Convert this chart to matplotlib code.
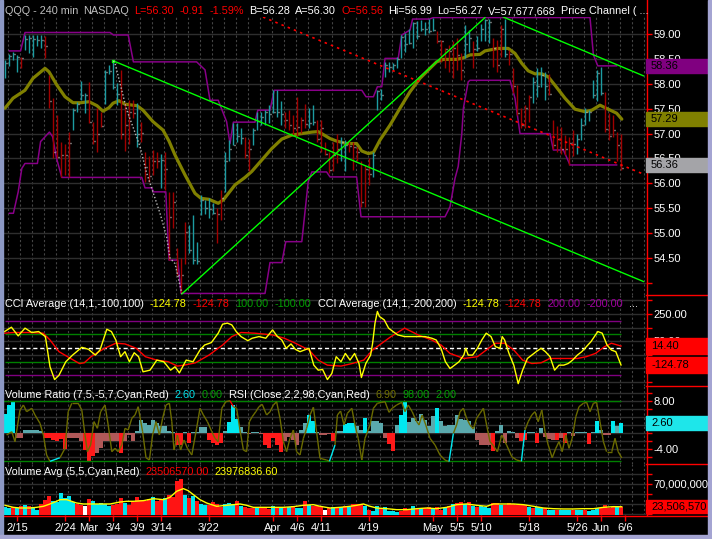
import matplotlib
matplotlib.use('Agg')
import matplotlib.pyplot as plt
import matplotlib.transforms as mtransforms
from matplotlib.patches import Rectangle
from matplotlib.lines import Line2D
from matplotlib.collections import LineCollection
from matplotlib.ticker import FixedLocator, FixedFormatter, MultipleLocator
import numpy as np

plt.rcParams['font.family'] = ['Liberation Sans', 'DejaVu Sans']

# ---------------- data (QQQ 240 min bars) ----------------
bar_dir = ("uuuud" "uuuuu" "ddddd" "dduuu" "udddd" "uuuud" "dddud" "ddddu"
           "ddddd" "duuuu" "uuudd" "uuuuu" "dduuu" "uuuuu" "ddddd" "duudd"
           "ddddu" "udddd" "dduuu" "uuuuu" "uuuuu" "uuudd" "ddddd" "uuduu"
           "uuddd" "udddd" "dduuu" "udddd" "ddduu" "uuuuu" "ddddd")
bar_high = [58.48, 58.59, 58.63, 58.58, 58.54, 58.98, 58.98, 58.97, 58.97, 58.98,
            58.95, 58.18, 57.71, 57.37, 56.84, 56.80, 57.04, 57.51, 57.63, 58.06,
            57.81, 58.04, 57.24, 57.51, 57.44, 58.28, 58.38, 58.48, 58.01, 58.28,
            57.61, 57.67, 57.67, 57.61, 57.24, 56.64, 56.54, 56.67, 56.64, 56.60,
            56.64, 55.83, 55.83, 54.70, 54.50, 55.23, 55.16, 55.37, 54.83, 55.77,
            55.67, 55.70, 55.60, 55.50, 55.87, 56.64, 56.87, 57.21, 57.21, 57.11,
            56.94, 56.90, 57.11, 57.44, 57.44, 57.47, 57.57, 57.87, 57.87, 57.65,
            57.44, 57.47, 57.37, 57.74, 57.34, 57.59, 57.51, 57.57, 57.27, 57.27,
            56.84, 56.64, 56.84, 57.00, 56.94, 56.87, 56.87, 56.84, 56.74, 56.44,
            56.37, 56.50, 56.64, 57.87, 57.89, 58.44, 58.44, 58.41, 58.54, 58.97,
            59.01, 59.10, 59.25, 59.26, 59.28, 59.25, 59.30, 59.33, 59.06, 58.88,
            58.71, 58.78, 58.86, 58.91, 58.61, 59.18, 59.08, 58.85, 58.95, 59.21,
            59.30, 59.31, 58.91, 58.88, 59.19, 59.30, 58.68, 58.31, 57.97, 57.52,
            57.57, 57.77, 58.14, 58.31, 58.34, 58.24, 58.19, 57.27, 57.16, 57.14,
            56.97, 56.94, 57.07, 57.00, 57.31, 57.51, 57.47, 58.08, 58.28, 58.34,
            57.84, 57.41, 57.37, 57.04, 56.99]
bar_low = [58.11, 58.36, 58.48, 58.23, 58.31, 58.68, 58.61, 58.54, 58.75, 58.71,
           58.51, 57.51, 56.50, 56.50, 56.13, 56.17, 56.13, 57.07, 57.43, 57.67,
           57.41, 57.21, 56.80, 56.64, 57.14, 57.59, 58.19, 57.90, 57.57, 56.90,
           56.65, 56.80, 57.31, 56.74, 56.84, 56.03, 56.03, 56.17, 56.30, 55.90,
           55.87, 54.46, 55.10, 54.16, 53.79, 54.39, 54.60, 54.39, 54.39, 55.37,
           55.38, 55.30, 55.38, 54.80, 55.27, 55.83, 56.44, 56.77, 56.84, 56.80,
           56.50, 56.24, 56.78, 57.07, 57.17, 57.17, 57.21, 57.41, 57.34, 57.17,
           57.11, 57.07, 56.97, 56.94, 57.01, 57.11, 57.11, 57.17, 56.84, 56.64,
           56.57, 56.20, 56.24, 56.40, 56.44, 56.24, 56.64, 56.27, 56.44, 55.53,
           55.53, 55.97, 56.13, 57.47, 57.67, 58.14, 58.24, 58.28, 58.32, 58.51,
           58.64, 58.79, 58.71, 58.90, 59.05, 58.97, 59.01, 59.05, 58.81, 58.44,
           58.31, 58.24, 58.11, 58.28, 58.08, 58.51, 58.64, 58.31, 58.66, 58.85,
           58.85, 58.81, 58.34, 58.24, 58.54, 58.54, 58.38, 57.81, 57.37, 57.11,
           57.11, 57.24, 57.61, 57.74, 57.94, 57.67, 57.77, 56.70, 56.64, 56.60,
           56.57, 56.37, 56.54, 56.60, 56.87, 57.17, 57.25, 57.71, 57.65, 57.78,
           57.04, 56.87, 56.94, 56.44, 56.27]
bar_close = [58.42, 58.56, 58.59, 58.54, 58.52, 58.90, 58.91, 58.90, 58.88, 58.88,
             58.76, 57.65, 56.64, 56.52, 56.57, 56.57, 56.82, 57.47, 57.59, 57.78,
             57.78, 57.23, 56.85, 57.00, 57.16, 58.24, 58.26, 57.94, 57.79, 56.99,
             57.17, 57.44, 57.41, 57.00, 57.02, 56.32, 56.14, 56.44, 56.44, 56.47,
             56.29, 55.33, 55.63, 54.17, 54.17, 55.02, 54.66, 54.46, 54.44, 55.67,
             55.51, 55.49, 55.40, 55.38, 55.70, 56.44, 56.70, 56.78, 56.96, 56.92,
             56.57, 56.70, 57.07, 57.25, 57.34, 57.44, 57.39, 57.43, 57.44, 57.40,
             57.27, 57.17, 57.11, 57.14, 57.27, 57.19, 57.21, 57.23, 56.90, 57.11,
             56.60, 56.27, 56.57, 56.70, 56.84, 56.77, 56.76, 56.74, 56.64, 55.62,
             56.29, 56.18, 56.57, 57.86, 57.78, 58.38, 58.34, 58.38, 58.50, 58.93,
             58.79, 58.81, 59.23, 58.95, 59.11, 59.10, 59.06, 59.08, 58.86, 58.85,
             58.70, 58.65, 58.71, 58.58, 58.28, 58.79, 58.91, 58.70, 58.71, 59.11,
             59.28, 59.24, 58.71, 58.38, 59.11, 58.59, 58.59, 57.96, 57.41, 57.17,
             57.51, 57.74, 58.04, 57.96, 58.18, 57.96, 57.79, 56.78, 56.90, 56.70,
             56.70, 56.82, 56.80, 56.90, 57.17, 57.44, 57.44, 57.78, 58.21, 57.81,
             57.09, 56.96, 57.07, 56.78, 56.30]

ma_x = [0, 2, 5, 7, 10, 11, 13, 15, 17, 19, 21, 23, 24.5, 26, 27, 28.5, 30, 33, 34.5, 37,
        39.5, 41, 42.5, 45, 47.5, 49, 51, 53.3, 54.6, 57.5, 60, 61.7, 64.2, 66.7, 69.2,
        71.7, 74.2, 76.7, 78.3, 80, 81.25, 82.9, 85.4, 87.9, 89.2, 90.8, 92.1, 93.75,
        96.25, 98.75, 101.25, 103.75, 106.25, 107.9, 109.6, 112.9, 114.6, 116.25, 118.75,
        120, 121.25, 123.3, 125.8, 127.5, 129.2, 130.8, 132.5, 134.2, 135.8, 137.5, 140,
        142.5, 145, 146.7, 148.75, 150.8, 152.9, 154.2]
ma_v = [57.51, 57.71, 57.87, 58.11, 58.31, 58.24, 57.97, 57.74, 57.62, 57.62, 57.64, 57.56,
        57.45, 57.52, 57.61, 57.66, 57.59, 57.56, 57.47, 57.24, 57.07, 56.85, 56.57, 56.17,
        55.80, 55.70, 55.68, 55.60, 55.67, 55.97, 56.12, 56.24, 56.47, 56.70, 56.89, 56.97,
        57.00, 57.03, 57.04, 56.96, 56.90, 56.85, 56.80, 56.80, 56.65, 56.60, 56.62, 56.87,
        57.17, 57.51, 57.84, 58.11, 58.31, 58.44, 58.49, 58.49, 58.52, 58.58, 58.59, 58.66,
        58.68, 58.71, 58.71, 58.61, 58.41, 58.26, 58.20, 58.20, 58.14, 57.97, 57.71, 57.49,
        57.44, 57.47, 57.57, 57.49, 57.41, 57.29]

chan_up_x = [1.1, 3.9, 5.0, 26.25, 27.1, 30.8, 32.1, 47.9, 50.0, 51.25, 53.3, 55.4, 56.25,
             57.1, 62.5, 63.2, 66.25, 67.3, 89.2, 90.25, 92.1, 93.1, 94.2, 95.0, 98.3, 99.2,
             101.25, 101.9, 106.1, 107.1, 146.25, 147.1, 148.2, 152.9]
chan_up_v = [58.66, 58.66, 59.03, 59.03, 58.98, 58.98, 58.44, 58.44, 58.28, 57.67, 57.67,
             57.24, 56.80, 57.23, 57.23, 57.47, 57.47, 57.87, 57.87, 57.74, 57.74, 57.94,
             57.94, 58.51, 58.51, 58.98, 59.08, 59.30, 59.30, 59.33, 59.33, 58.58, 58.36, 58.36]
chan_lo_x = [1.1, 2.1, 3.3, 4.2, 5.0, 8.1, 8.9, 9.6, 11.1, 11.9, 12.9, 14.2, 34.2, 35.0,
             36.7, 37.1, 40.2, 41.0, 43.2, 44.0, 65.0, 66.25, 69.2, 70.2, 74.2, 75.8, 76.7,
             80.4, 81.25, 87.9, 89.0, 110.0, 111.25, 112.5, 113.3, 114.2, 114.6, 115.8,
             116.25, 126.25, 127.5, 128.75, 136.25, 137.1, 139.6, 141.25, 152.9]
chan_lo_v = [55.40, 55.40, 55.83, 56.30, 56.40, 56.40, 56.84, 56.90, 57.03, 56.94, 56.50,
             56.12, 56.12, 55.91, 55.91, 55.83, 55.83, 54.46, 54.46, 53.79, 53.79, 54.41,
             54.41, 54.83, 54.83, 56.03, 56.23, 56.23, 56.13, 56.13, 55.33, 55.33, 55.53,
             56.10, 56.34, 57.00, 57.51, 58.04, 58.07, 58.07, 57.71, 57.00, 57.00, 56.67,
             56.67, 56.37, 56.37]

# trend lines: (bar, price) end points
trend_green = [((27.1, 58.46), (159.6, 54.03)),
               ((44.2, 53.78), (120.0, 59.33)),
               ((124.6, 59.34), (159.6, 58.16))]
trend_red = ((64.5, 59.34), (159.2, 56.20))
swing_x = [27.1, 27.5, 28.75, 30.4, 32.1, 33.75, 35.4, 37.1, 38.75, 40.4, 41.25, 42.5, 44.2]
swing_v = [58.46, 58.41, 58.01, 57.48, 57.11, 56.74, 56.21, 55.80, 55.40, 54.93, 54.50,
           54.39, 53.79]

cci_x = [-0.1, 1.6, 3.3, 5.0, 6.7, 8.4, 10.1, 11.25, 12.4, 13.5, 15.2, 16.9, 19.2, 20.9, 22.6,
         23.75, 25.45, 26.6, 27.7, 28.9, 30.0, 31.1, 32.3, 33.4, 34.5, 36.25, 37.95, 39.7,
         41.4, 42.5, 43.6, 45.3, 47.0, 48.75, 49.9, 51.6, 53.3, 54.4, 55.6, 56.7, 57.8, 59.0,
         60.7, 61.8, 63.5, 65.2, 66.9, 68.1, 69.2, 70.3, 71.5, 72.6, 73.75, 76.0, 77.2, 78.3,
         79.4, 80.6, 81.7, 82.8, 84.0, 85.1, 86.25, 87.4, 88.5, 89.1, 90.2, 91.4, 91.9, 92.5,
         93.1, 93.6, 94.8, 95.9, 97.0, 98.2, 99.9, 101.0, 102.7, 105.0, 106.7, 107.8, 109.0,
         110.1, 111.25, 112.4, 113.5, 114.7, 115.2, 115.8, 116.9, 118.1, 119.2, 120.3, 121.5,
         122.6, 123.75, 124.3, 124.9, 126.0, 127.2, 128.3, 129.4, 130.6, 131.7, 132.8, 134.0,
         135.1, 136.25, 137.4, 138.5, 139.7, 140.8, 141.9, 143.1, 144.2, 146.5, 148.2, 149.3,
         150.5, 151.6, 152.7, 154.0]
cci_v = [121, 153, 89, 146, 114, 121, 84, -138, -232, -200, -101, -52, 5, -10, -52, -15, 138,
         121, 59, -64, -27, -101, -35, -64, -175, -163, -89, -101, -163, -138, -183, -89,
         -101, -15, 22, 40, 109, 175, 183, 170, 121, 84, 54, 72, 84, 72, 133, 84, 59, -2, 30,
         -10, -27, -2, -126, -163, -158, -232, -188, -64, -101, -40, -89, -40, -114, -217,
         -114, -52, 35, 183, 269, 232, 207, 146, 121, 96, 84, 84, 84, 84, 72, 59, -2, -101,
         -151, -126, -101, -52, -2, -52, -52, -2, 59, 109, 84, 10, -2, 84, 59, -40, -126,
         -262, -163, -77, -52, -27, -2, -27, -64, -163, -126, -126, -114, -89, -52, -27, 47,
         121, 109, 22, -15, -27, -124.78]
cci_avg_x = [-0.1, 2.2, 5.6, 9.55, 11.25, 13.5, 16.4, 18.6, 19.8, 21.5, 24.9, 27.7, 30.0,
             32.8, 35.1, 37.95, 40.8, 43.1, 44.8, 47.6, 51.0, 54.4, 56.7, 59.0, 62.4, 66.9,
             69.8, 72.6, 76.0, 78.3, 80.6, 84.0, 86.8, 89.7, 91.9, 94.2, 96.5, 99.9, 103.3,
             106.7, 109.0, 111.25, 114.7, 118.1, 120.9, 122.6, 124.9, 127.2, 129.4, 131.7,
             134.0, 136.25, 139.7, 143.1, 145.3, 147.6, 149.9, 151.6, 154.0]
cci_avg_v = [109, 114, 114, 109, 59, -27, -77, -114, -109, -64, -2, 35, 30, -2, -64, -89,
             -101, -133, -126, -109, -52, 22, 84, 114, 109, 96, 72, 35, -15, -89, -126, -133,
             -114, -89, -15, 35, 84, 146, 96, 59, 22, -40, -77, -64, -2, 35, 35, -15, -89,
             -114, -109, -77, -77, -77, -64, -40, 10, 35, 14.40]

vol_ratio = [4.75, 6.9, 8.1, -1.25, -1.25, 0.67, 0.8, 0.8, 0.8, 0.4,
             -1.25, -1.25, -1.7, -2.1, -1.5, -4.0, -1.25, -1.25, -1.25, -1.9,
             -4.2, -7.1, -5.8, -5.0, -3.75, -2.1, -2.1, -2.1, -2.1, -5.0,
             -2.1, -0.6, -2.1, 0.4, 3.3, 2.5, 2.1, 3.3, 2.5, 1.7,
             1.7, 0.4, 0.25, -2.9, -2.9, 0.3, -2.5, 0.3, 0.25, 1.4,
             1.4, -1.7, -2.5, -2.9, -2.5, 0.4, 2.75, 7.1, 3.6, 1.4,
             0.2, -0.25, 0.2, 0.2, -0.25, -2.9, -3.75, -1.25, -2.9, -4.75,
             -2.1, -1.1, -1.7, -2.9, 0.8, 2.5, 4.6, 2.9, 0.3, -0.4,
             -0.4, -0.25, -2.1, 0.4, 0.4, 2.25, 2.5, 2.5, 1.7, 0.8,
             3.75, 0.4, 3.1, 3.1, 2.5, -1.25, -2.75, -4.6, 1.9, 4.6,
             7.75, 2.75, 3.75, 2.9, 4.75, 3.3, 1.7, 4.2, 6.25, 3.1,
             1.7, 1.9, 1.9, 4.6, 3.6, 3.3, 3.1, 1.4, -1.7, -2.9,
             -2.9, -2.9, -4.4, 0.4, 2.1, -2.5, 0.4, 0.25, -1.25, -1.9,
             -1.7, 0.25, 0.25, -2.5, 1.25, -1.1, -1.4, -1.7, -1.7, -1.25,
             -2.5, 0.25, -0.8, 0.2, 0.2, 0.25, -2.75, 0.2, 2.9, 0.8,
             -0.6, -0.6, 2.9, 1.7, 2.6]
vol_ratio_signal = [1, 1, 1, 0, 0, 0, 0, 0, 0, 0,  1, 1, 1, 1, 1, 1, 0, 0, 0, 0,
                    1, 1, 1, 0, 0, 0, 0, 0, 0, 1,  0, 0, 0, 0, 0, 0, 0, 0, 0, 0,
                    0, 0, 0, 1, 1, 0, 1, 0, 0, 0,  0, 1, 1, 1, 1, 0, 1, 1, 1, 0,
                    0, 0, 0, 0, 0, 1, 1, 1, 1, 1,  0, 0, 0, 0, 0, 0, 1, 1, 0, 0,
                    0, 0, 1, 0, 0, 1, 1, 1, 0, 0,  1, 0, 0, 0, 0, 0, 1, 1, 0, 1,
                    1, 0, 0, 0, 0, 0, 0, 0, 1, 0,  0, 0, 0, 0, 0, 0, 0, 0, 0, 0,
                    0, 0, 1, 0, 0, 0, 0, 0, 0, 1,  1, 0, 0, 1, 0, 0, 0, 0, 1, 0,
                    1, 0, 0, 0, 0, 0, 1, 0, 1, 0,  0, 0, 1, 0, 1]

rsi_x = [0.4, 1.7, 2.5, 3.75, 4.6, 5.4, 6.7, 7.5, 8.75, 9.6, 10.4, 11.25, 13.75, 15.0, 15.8,
         16.7, 18.3, 19.2, 20.0, 20.6, 21.4, 22.25, 23.1, 23.9, 25.0, 25.8, 26.7, 27.5, 28.3,
         29.2, 30.0, 30.8, 31.7, 32.5, 33.3, 34.4, 35.25, 36.1, 36.9, 37.75, 38.6, 39.4,
         40.25, 41.1, 41.7, 42.25, 43.1, 43.9, 44.75, 45.6, 46.7, 47.9, 48.75, 49.6, 50.6,
         51.7, 52.5, 53.3, 54.2, 55.2, 56.25, 57.1, 57.9, 58.75, 59.6, 60.4, 61.1, 61.8,
         62.7, 63.5, 64.3, 65.4, 66.25, 67.1, 67.9, 68.75, 69.6, 70.4, 71.25, 72.1, 72.9,
         73.75, 74.6, 75.4, 76.25, 77.1, 78.75, 80.4, 81.1, 82.5, 83.1, 83.9, 84.75, 85.6,
         86.7, 87.5, 88.3, 89.2, 90.0, 91.25, 92.1, 93.1, 94.2, 95.0, 96.0, 96.8, 97.9, 99.2,
         100.0, 100.8, 101.8, 102.7, 103.5, 104.3, 105.2, 106.25, 107.5, 108.75, 110.0,
         111.0, 112.1, 112.9, 113.75, 114.6, 115.4, 116.25, 117.1, 117.9, 118.75, 119.6,
         120.4, 121.25, 122.1, 123.1, 124.2, 125.4, 126.7, 127.9, 129.1, 130.0, 130.8, 131.7,
         132.5, 133.3, 134.2, 135.0, 135.8, 136.8, 137.7, 138.5, 139.3, 140.2, 141.0, 141.8,
         142.7, 143.5, 144.6, 145.4, 146.25, 147.1, 147.9, 148.75, 149.6, 150.4, 151.7,
         152.5, 153.3, 154.2]
rsi_v = [43.6, 48.9, 32.9, 83.6, 91.6, 80.9, 86.3, 75.6, 62.3, 43.6, 11.6, 1.5, 7.3, 22.3,
         80.9, 94.3, 94.3, 83.6, 43.6, 16.9, 27.6, 65, 54.3, 80.9, 91.6, 59.6, 16.9, 22.3,
         16.9, 27.6, 54.3, 51.6, 70.3, 75.6, 88.9, 48.9, 7.3, 3.6, 43.6, 65, 43.6, 70.3, 91.6,
         94.3, 65, 19.6, 43.6, 19.6, 35.6, 22.3, 11.6, 54.3, 86.3, 75.6, 65, 48.9, 38.3, 32.9,
         86.3, 96.9, 98.5, 88.9, 86.3, 51.6, 19.6, 16.9, 65, 72.9, 80.9, 88.9, 92.7, 75.6,
         80.9, 91.6, 96.9, 70.3, 32.9, 16.9, 38.3, 51.6, 16.9, 11.6, 38.3, 54.3, 75.6, 88,
         6.3, 3.6, 1.5, 27.6, 75.6, 82, 59.6, 78.3, 86.3, 59.6, 38.3, 3.6, 38.3, 59.6, 86.3,
         94.3, 95.9, 96.9, 79.9, 86.3, 91.6, 95.9, 80.9, 91.6, 80.9, 67.6, 59.6, 75.6, 59.6,
         38.3, 27.6, 11.6, 3.6, 1.0, 46.3, 59.6, 80.9, 86.3, 70.3, 59.6, 53.2, 70.3, 78.3,
         86.3, 59.6, 32.9, 26.5, 16.9, 43.6, 27.6, 8.9, 3.6, 1.5, 51.6, 64.9, 75.6, 80.9,
         64.9, 83.6, 48.9, 27.6, 7.3, 22.3, 32.9, 16.9, 43.6, 22.3, 38.3, 72.9, 88.9, 94.3,
         95.9, 80.9, 94.3, 95.9, 64.9, 32.9, 16.9, 16.9, 38.3, 16.9, 6.9]

# volume in millions of shares, u = up, d = down, n = unchanged
vol_m = [22.8, 21.5, 22.8, 21.5, 24.9, 26.9, 24.9, 22.8, 18.1, 29.6,
         38.3, 46.4, 36.3, 33.6, 51.8, 41.7, 45.1, 33.6, 29.6, 26.9,
         24.9, 40.3, 36.3, 29.6, 31.6, 29.6, 24.9, 28.2, 29.6, 41.7,
         31.6, 28.2, 33.6, 43.1, 38.3, 35.0, 40.3, 43.1, 36.3, 38.3,
         41.7, 48.4, 43.1, 76.7, 80.8, 47.1, 41.7, 45.1, 36.3, 29.6,
         28.2, 26.9, 33.6, 29.6, 22.8, 29.6, 31.6, 29.6, 35.0, 24.9,
         22.8, 21.5, 21.5, 21.5, 22.8, 21.5, 20.1, 24.9, 21.5, 22.8,
         21.5, 22.8, 24.9, 21.5, 21.5, 36.3, 26.9, 24.9, 24.9, 22.8,
         18.1, 21.5, 22.8, 22.8, 22.8, 24.9, 22.8, 29.6, 29.6, 29.6,
         24.9, 18.1, 16.1, 24.9, 21.5, 22.8, 16.1, 14.7, 12.7, 14.7,
         21.5, 18.1, 24.9, 19.5, 21.5, 21.5, 22.8, 21.5, 22.8, 18.1,
         21.5, 24.9, 29.6, 31.6, 33.6, 29.6, 33.6, 24.9, 22.8, 24.9,
         22.8, 21.5, 31.6, 31.6, 26.9, 28.2, 31.6, 29.6, 26.9, 29.6,
         28.2, 22.8, 21.5, 22.8, 21.5, 21.5, 18.1, 18.1, 18.1, 18.1,
         18.1, 18.1, 18.1, 18.1, 18.1, 18.1, 16.1, 18.1, 21.5, 21.5,
         26.9, 21.5, 22.8, 22.8, 23.51]
vol_dir = ("uudud" "uduud" "dduuu" "uuudd" "nduuu" "uuddd" "udddd" "ddudd"
           "udddd" "ududu" "udddd" "uuudu" "dddud" "ddudu" "duduu" "duddd"
           "ndudu" "duddd" "uduud" "uuuud" "ddudu" "ddudd" "ududd" "ududu"
           "uuddu" "ddddd" "duduu" "duudu" "uuduu" "duuud" "dddud")
vol_avg_x = [0, 2.1, 3.75, 6.25, 7.9, 9.6, 11.25, 12.9, 13.75, 15.4, 17.9, 19.6, 21.25, 23.75,
             26.25, 28.75, 30.4, 32.1, 34.6, 37.1, 39.6, 41.25, 42.9, 44.6, 45.8, 47.1, 48.75,
             50.4, 52.9, 55.4, 57.1, 58.75, 60.4, 62.1, 64.6, 67.1, 69.6, 72.1, 74.6, 77.1,
             78.75, 81.25, 83.75, 86.25, 87.9, 89.6, 91.25, 92.9, 95.4, 97.9, 100.4, 102.9,
             105.4, 107.9, 110.4, 112.9, 115.4, 117.9, 120.4, 122.1, 124.6, 127.1, 129.6,
             132.1, 134.6, 137.1, 139.6, 142.1, 144.6, 147.1, 149.6, 152.1, 154.2]
vol_avg_m = [26.9, 22.8, 21.5, 21.5, 22.8, 24.9, 29.6, 35.0, 38.3, 38.3, 31.6, 29.6, 29.6,
             29.6, 29.6, 33.6, 35.0, 35.0, 36.3, 40.3, 38.3, 43.1, 55.2, 60.6, 56.5, 48.4,
             38.3, 31.6, 24.9, 26.9, 28.2, 29.6, 26.9, 22.8, 22.8, 22.8, 22.8, 24.2, 26.9,
             28.2, 24.9, 21.5, 22.8, 24.9, 26.9, 29.6, 24.9, 21.5, 20.1, 18.1, 18.1, 20.1,
             21.5, 20.1, 22.8, 28.2, 29.6, 26.9, 24.9, 29.6, 29.6, 29.6, 28.2, 24.9, 21.5,
             20.1, 19.5, 19.5, 20.1, 20.1, 22.8, 24.2, 23.98]

# date labels and their trading-day number counted from 2/15
date_labels = ['2/15', '2/24', 'Mar', '3/4', '3/9', '3/14', '3/22', 'Apr', '4/6', '4/11',
               '4/19', 'May', '5/5', '5/10', '5/18', '5/26', 'Jun', '6/6']
date_day = [0, 6, 9, 12, 15, 18, 24, 32, 35, 38, 44, 52, 55, 58, 64, 70, 73, 76]

price_ticks = [54.0, 54.5, 55.0, 55.5, 56.0, 56.5, 57.0, 57.5, 58.0, 58.5, 59.0]
price_tick_labels = ['', '54.50', '55.00', '55.50', '56.00', '56.50', '57.00', '57.50',
                     '58.00', '58.50', '59.00']
cci_ticks = [-250, -150, -50, 50, 150, 250, 350]
cci_tick_labels = ['', '', '', '50.00', '', '250.00', '']
vr_ticks = [-6, -4, -2, 0, 2, 4, 6, 8, 10]
vr_tick_labels = ['', '-4.00', '', '', '2.00', '', '', '8.00', '']
vol_ticks = [10, 30, 50, 70, 90]
vol_tick_labels = ['', '30,000,000', '', '70,000,000', '']

# ---------------- figure ----------------
W, H = 712, 539
fig = plt.figure(figsize=(W / 100, H / 100), dpi=100, facecolor='black')
TEAL, DRED = '#1c9ca2', '#a00000'
WHITE, RED, GREEN, PURPLE = '#ffffff', '#ff0000', '#00a000', '#a000a0'
GRID = '#2e2e2e'
FS = 7.8
PLOT_L, PLOT_R, AXIS_R = 3, 646, 708


def axes_px(top, bottom):
    return fig.add_axes([PLOT_L / W, 1 - bottom / H, (PLOT_R - PLOT_L) / W, (bottom - top) / H])


ax_p = axes_px(17, 295)
ax_c = axes_px(295, 386)
ax_v = axes_px(386, 464)
ax_vol = axes_px(464, 515)

# RSI shares the volume-ratio panel on its own scale
ax_r = ax_v.twinx()
ax_r.set_ylim(-2.8, 122)
ax_r.set_axis_off()

ax_p.set_ylim(53.759, 59.341)
ax_c.set_ylim(-279.4, 389.7)
ax_v.set_ylim(-7.75, 11.75)
ax_vol.set_ylim(7.32, 110.4)

for ax, ticks, labels in [(ax_p, price_ticks, price_tick_labels),
                          (ax_c, cci_ticks, cci_tick_labels),
                          (ax_v, vr_ticks, vr_tick_labels),
                          (ax_vol, vol_ticks, vol_tick_labels)]:
    ax.set_facecolor('black')
    ax.set_xlim(-0.5, 160.25)
    for s in ax.spines.values():
        s.set_visible(False)
    ax.yaxis.tick_right()
    ax.yaxis.set_label_position('right')
    ax.yaxis.set_major_locator(FixedLocator(ticks))
    ax.yaxis.set_major_formatter(FixedFormatter(labels))
    ax.tick_params(axis='y', left=False, labelleft=False, right=True, labelright=True,
                   colors=RED, labelcolor=WHITE, labelsize=8, length=4, width=1, pad=1.5)
    ax.xaxis.set_minor_locator(MultipleLocator(3, offset=0.75))
    ax.grid(axis='y', color=GRID, lw=1)
    ax.grid(axis='x', which='minor', color='#444444', lw=0.8, linestyle=(0, (2, 2)))
    ax.tick_params(axis='x', which='both', bottom=False, labelbottom=False)

tick_pos = [3 + 2 * d for d in date_day]
ax_vol.set_xticks(tick_pos)
ax_vol.set_xticklabels(date_labels)
ax_vol.tick_params(axis='x', which='major', bottom=True, labelbottom=True, colors=RED,
                   labelcolor=WHITE, labelsize=8, length=4, width=1, pad=2)
ax_vol.tick_params(axis='x', which='minor', bottom=False)

# ---- price panel ----
x = np.arange(len(bar_high))
up = np.array([d == 'u' for d in bar_dir])
ax_p.plot(chan_up_x, chan_up_v, color='#880088', lw=1.1, zorder=2)
ax_p.plot(chan_lo_x, chan_lo_v, color='#880088', lw=1.1, zorder=2)
ax_p.plot(ma_x, ma_v, color='#808000', lw=2.3, zorder=2, solid_capstyle='round')
ax_p.vlines(x, bar_low, bar_high, colors=np.where(up, TEAL, DRED), lw=1, zorder=3)
ax_p.hlines(bar_close, x + 0.2, x + 0.55, colors='#d0d0d0', lw=1, zorder=3)
for (x0, y0), (x1, y1) in trend_green:
    ax_p.plot([x0, x1], [y0, y1], color='#00ff00', lw=1, zorder=4)
ax_p.plot(*trend_green[0][0], marker='s', ms=2, color='#00ff00', zorder=4)
ax_p.plot([trend_red[0][0], trend_red[1][0]], [trend_red[0][1], trend_red[1][1]],
          color=RED, lw=1.2, linestyle=(0, (1.5, 2.5)), zorder=4)
ax_p.plot(swing_x, swing_v, color='#b8b8b8', lw=1, linestyle=(0, (1, 1.5)), zorder=4)

# ---- CCI panel ----
for lvl, col in [(200, '#800080'), (-200, '#800080'), (100, '#008000'), (-100, '#008000')]:
    ax_c.hlines(lvl, -0.1, 154, color=col, lw=1)
ax_c.hlines(0, -0.1, 154, color=WHITE, lw=1, linestyle=(0, (3, 2)))
ax_c.plot(cci_avg_x, cci_avg_v, color=RED, lw=1)
ax_c.plot(cci_x, cci_v, color='#ffff00', lw=1)

# ---- volume ratio + RSI panel ----
vr = np.array(vol_ratio)
sig = np.array(vol_ratio_signal) == 1
vr_cols = np.where(vr >= 0, np.where(sig, '#00e8f0', '#5aa9ad'),
                   np.where(sig, '#ff1a1a', '#b05858'))
ax_v.bar(x, vr, width=0.78, color=vr_cols, zorder=2)
ax_r.hlines([98, 2], -0.5, 154, color='#008000', lw=1)
pts = np.column_stack([rsi_x, rsi_v])
segs = np.stack([pts[:-1], pts[1:]], axis=1)
rsi_arr = np.array(rsi_v)
seg_cols = np.where(rsi_arr[:-1] < 2, '#00e8f0',
                    np.where(rsi_arr[:-1] > 98, RED, '#6b6b00'))
ax_r.add_collection(LineCollection(segs, colors=seg_cols, linewidths=1))
ax_r.set_xlim(-0.5, 160.25)

# ---- volume panel ----
vol_cols = [{'u': '#00e5ee', 'd': '#ff1414', 'n': '#ffffff'}[d] for d in vol_dir]
ax_vol.bar(x, vol_m, width=0.78, color=vol_cols, zorder=2)
ax_vol.plot(vol_avg_x, vol_avg_m, color='#ffff00', lw=1, zorder=3)

# ---- frame, separators ----
ID = mtransforms.IdentityTransform()


def px_line(xs, ys, color, lw=1.0):
    fig.add_artist(Line2D(xs, [H - y for y in ys], color=color, lw=lw, transform=ID))


px_line([PLOT_R + 0.5, PLOT_R + 0.5], [0, 515], RED)
px_line([PLOT_L, AXIS_R], [515.5, 515.5], RED)
for yb in (295, 386, 464):
    px_line([PLOT_R, AXIS_R], [yb, yb], RED)
for rect in [(0, 0, 3, H, '#8c98c4'), (AXIS_R, 0, W - AXIS_R, H, '#a4a4d2'),
             (0, 0, W, 4, '#a4a4d2')]:
    fig.add_artist(Rectangle(rect[:2], rect[2], rect[3], color=rect[4], transform=ID, zorder=6))


# ---- value boxes on the right axis ----
def value_box(ax, val, text, bg, h=14, fg='black'):
    trans = mtransforms.blended_transform_factory(ax.transAxes, ax.transData)
    px, py = trans.transform((1.0, val))
    fig.add_artist(Rectangle((px, py - h / 2), AXIS_R - PLOT_R, h, color=bg, transform=ID,
                             zorder=2))
    fig.text((px + 5) / W, py / H, text, color=fg, fontsize=8, va='center', ha='left',
             zorder=4)


value_box(ax_p, 58.36, '58.36', '#800080')
value_box(ax_p, 57.29, '57.29', '#808000')
value_box(ax_p, 56.36, '56.36', '#a4a4a8')
value_box(ax_c, 14.40, '14.40', '#ff0000', h=16)
value_box(ax_c, -124.78, '-124.78', '#ff0000', h=16)
value_box(ax_v, 2.60, '2.60', '#1ee6ea')
value_box(ax_vol, 23.51, '23,506,570', '#ff0000', h=13)

# ---- header texts ----
renderer = fig.canvas.get_renderer()


def put(xx, y, s, c):
    return fig.text(xx / W, 1 - y / H, s, color=c, fontsize=FS, ha='left', va='center',
                    zorder=5)


def header(x0, y, parts, gap=6):
    xx = x0
    for s, c in parts:
        xx += put(xx, y, s, c).get_window_extent(renderer).width + gap


header(5, 11, [('QQQ - 240 min', '#c0c0c0'), ('NASDAQ', '#c0c0c0'), ('L=56.30', RED),
               ('-0.91', RED), ('-1.59%', RED), ('B=56.28', WHITE), ('A=56.30', WHITE),
               ('O=56.56', RED), ('Hi=56.99', WHITE), ('Lo=56.27', WHITE),
               ('V=57,677,668', WHITE), ('Price Channel ( ...', WHITE)], gap=5.2)
header(5, 304, [('CCI Average (14,1,-100,100)', WHITE), ('-124.78', '#ffff00'),
                ('-124.78', RED), ('100.00', GREEN), ('-100.00', GREEN),
                ('CCI Average (14,1,-200,200)', WHITE), ('-124.78', '#ffff00'),
                ('-124.78', RED), ('200.00', PURPLE), ('-200.00', PURPLE), ('...', WHITE)])
header(5, 395, [('Volume Ratio (7,5,-5,7,Cyan,Red)', WHITE), ('2.60', '#00e0e8'),
                ('0.00', GREEN), ('RSI (Close,2,2,98,Cyan,Red)', WHITE), ('6.90', '#707000'),
                ('98.00', GREEN), ('2.00', GREEN)])
header(5, 472, [('Volume Avg (5,5,Cyan,Red)', WHITE), ('23506570.00', RED),
                ('23976836.60', '#ffff00')])

fig.savefig('out.png', dpi=100, facecolor='black')
